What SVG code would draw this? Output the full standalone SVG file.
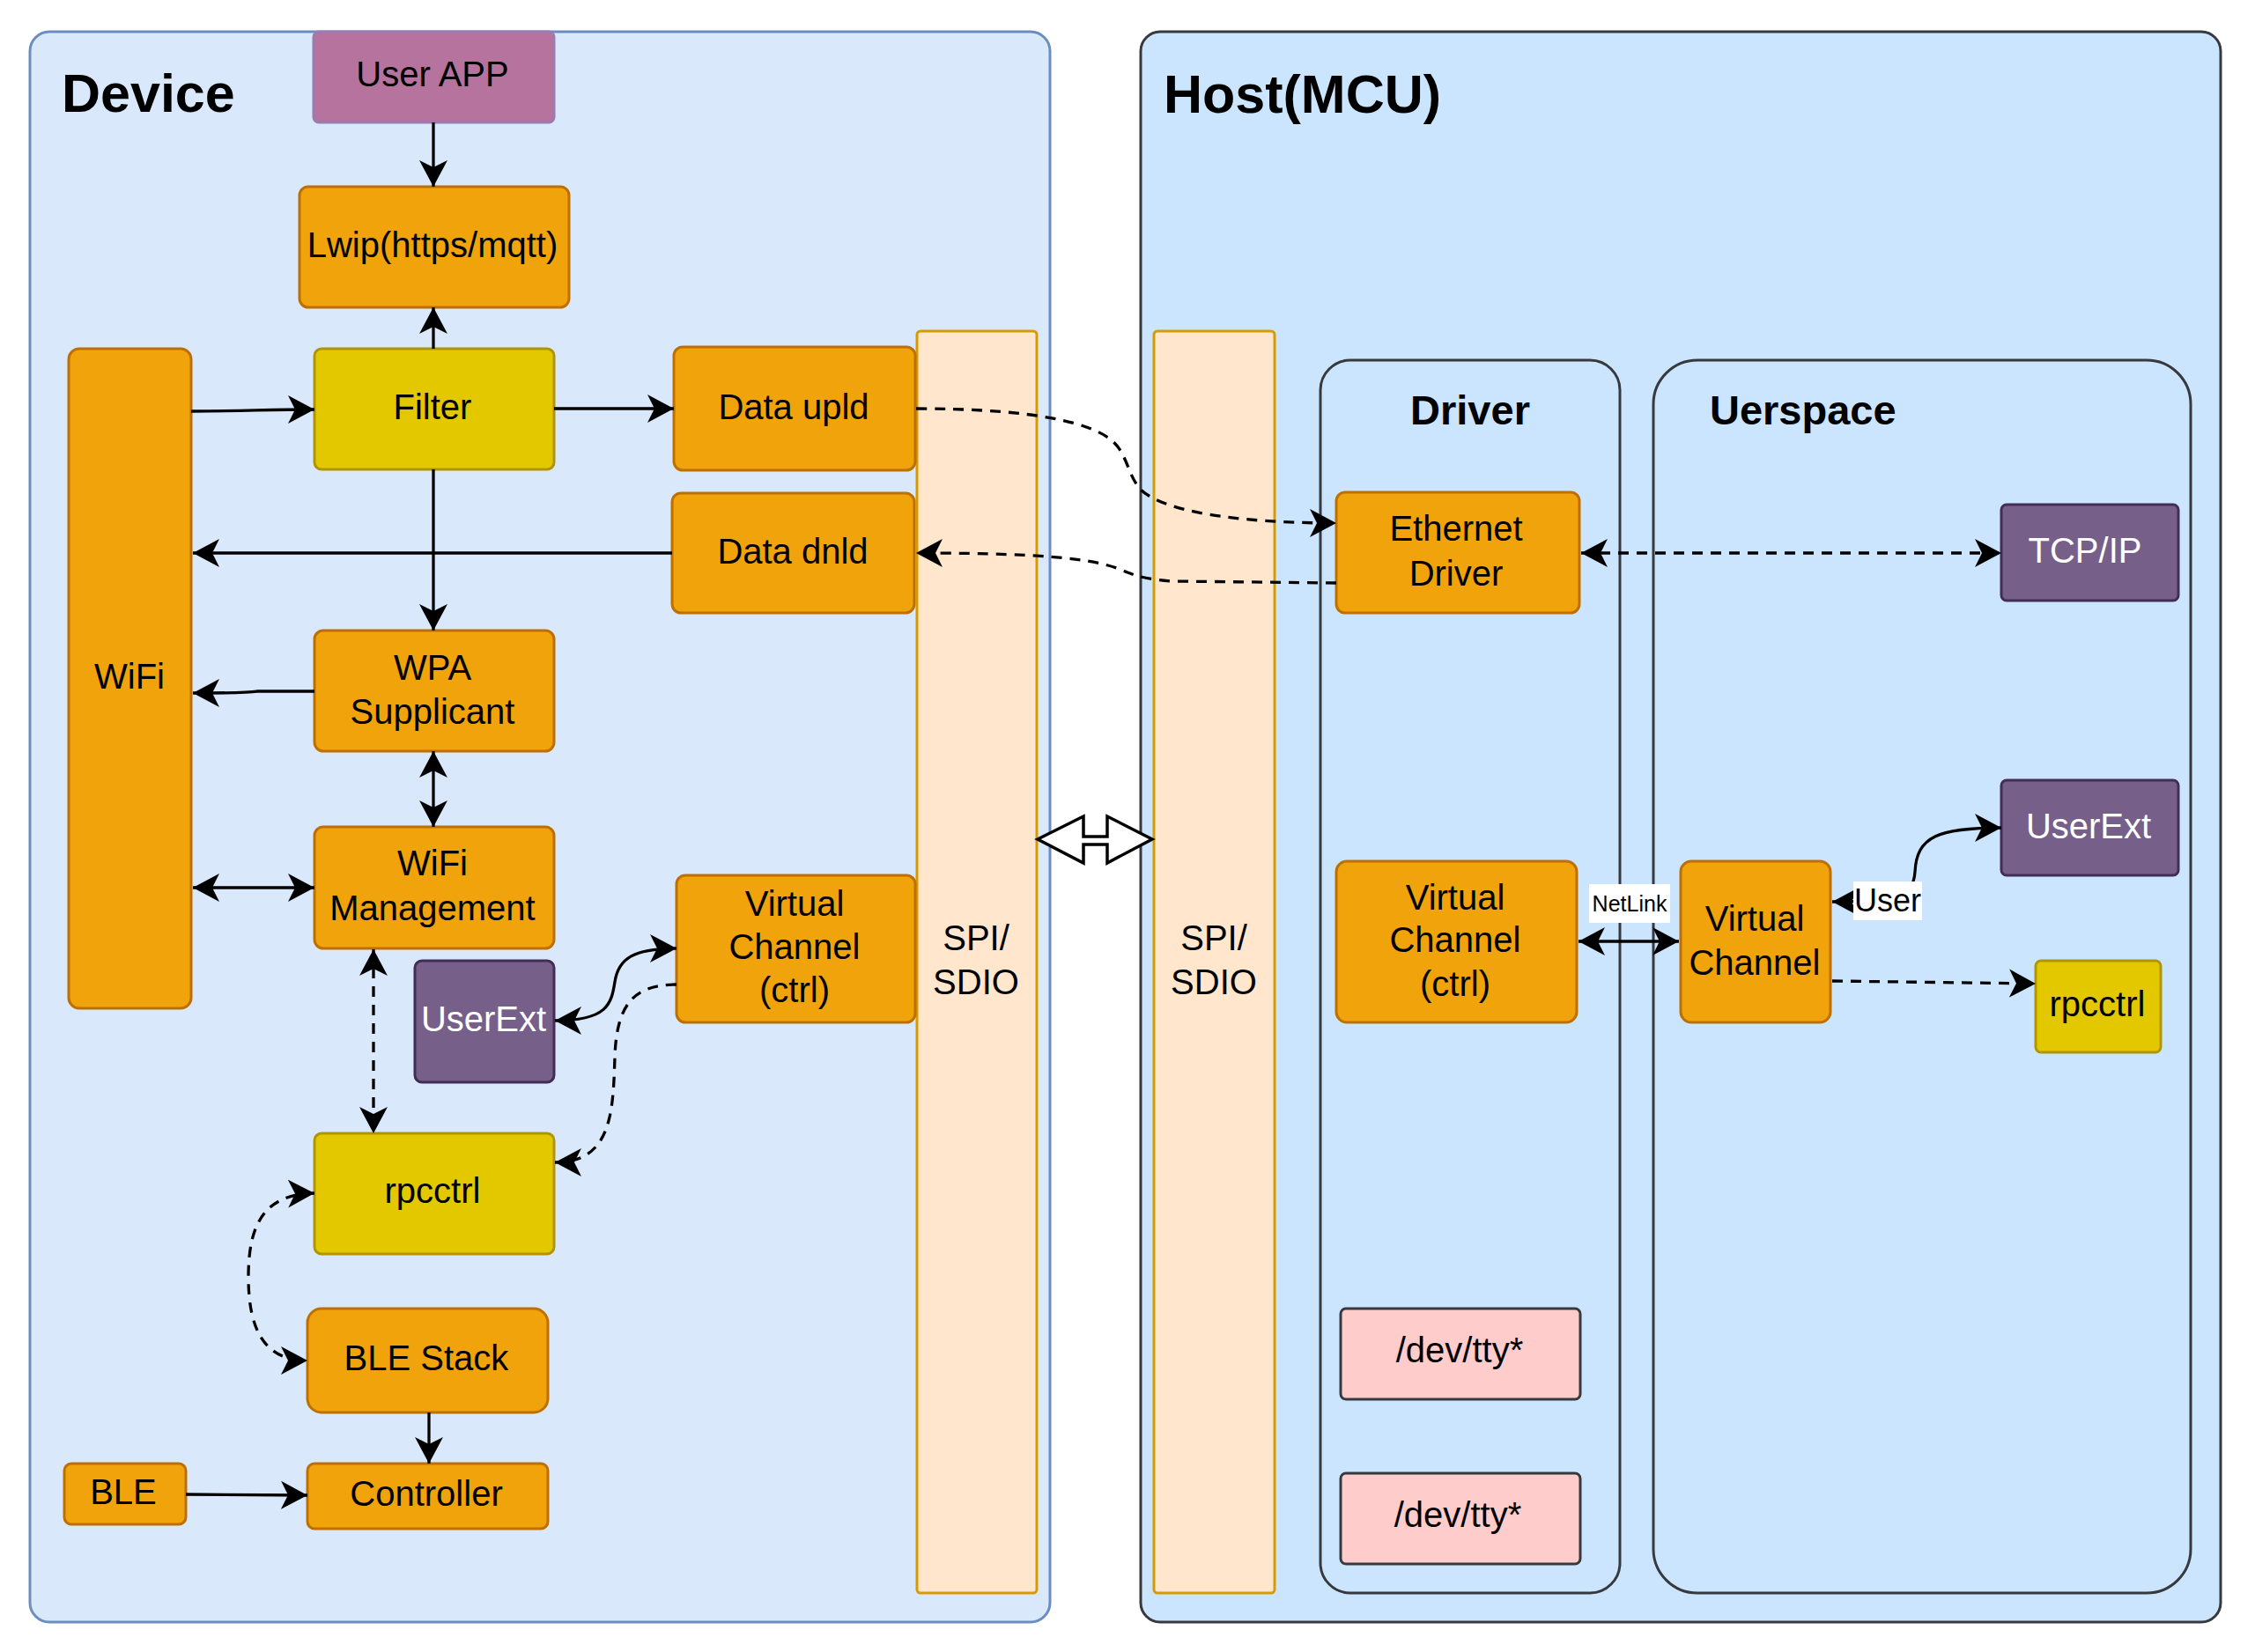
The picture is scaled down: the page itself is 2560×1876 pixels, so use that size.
<svg xmlns="http://www.w3.org/2000/svg" width="2560" height="1876" viewBox="0 0 2560 1876">
<defs>
<style>
text{font-family:"Liberation Sans",Arial,Helvetica,sans-serif;font-size:40px;fill:#000;text-anchor:middle}
.title{font-size:61px;font-weight:bold;text-anchor:start}
.sub{font-size:47px;font-weight:bold}
.w{fill:#fff}
.or{fill:#f0a30a;stroke:#BD7000;stroke-width:3}
.ye{fill:#e3c800;stroke:#B09500;stroke-width:3}
.pu{fill:#76608a;stroke:#432D57;stroke-width:3}
.pk{fill:#ffcccc;stroke:#36393d;stroke-width:3}
.sp{fill:#ffe6cc;stroke:#d79b00;stroke-width:3}
.c{fill:none;stroke:#000;stroke-width:3.3}
.d{stroke-dasharray:12 9}
.e{marker-end:url(#arr)}
.s{marker-start:url(#arr)}
</style>
<marker id="arr" markerUnits="userSpaceOnUse" markerWidth="31" markerHeight="33" viewBox="0 0 31 33" refX="30" refY="16.5" orient="auto-start-reverse"><path d="M0,0.5 L30,16.5 L0,32.5 L8,16.5 Z" fill="#000"/></marker>
</defs>
<rect width="2560" height="1876" fill="#fff"/>
<g id="device">
<rect x="34" y="36" width="1158" height="1806" rx="22" fill="#dae8fc" stroke="#6c8ebf" stroke-width="3"/>
<text class="title" x="70" y="127">Device</text>
</g>
<g id="host">
<rect x="1295" y="36" width="1226" height="1806" rx="22" fill="#cce5ff" stroke="#36393d" stroke-width="3"/>
<text class="title" x="1321" y="128">Host(MCU)</text>
</g>
<g id="driver">
<rect x="1499" y="409" width="340" height="1400" rx="34" fill="#cce5ff" stroke="#36393d" stroke-width="3"/>
<text class="sub" x="1669" y="482">Driver</text>
</g>
<g id="uerspace">
<rect x="1877" y="409" width="610" height="1400" rx="50" fill="#cce5ff" stroke="#36393d" stroke-width="3"/>
<text class="sub" x="1941" y="482" style="text-anchor:start">Uerspace</text>
</g>
<g id="spi-dev"><rect class="sp" x="1041" y="376" width="136" height="1433" rx="4"/><text x="1108" y="1079">SPI/</text><text x="1108" y="1129">SDIO</text></g>
<g id="spi-host"><rect class="sp" x="1310" y="376" width="137" height="1433" rx="4"/><text x="1378" y="1079">SPI/</text><text x="1378" y="1129">SDIO</text></g>
<g id="userapp"><rect x="356" y="36" width="273" height="103" rx="6" fill="#B5739D" stroke="#9b7bb0" stroke-width="3"/><text x="491" y="98">User APP</text></g>
<g id="lwip"><rect class="or" x="340" y="212" width="306" height="137" rx="10"/><text x="491" y="292">Lwip(https/mqtt)</text></g>
<g id="filter"><rect class="ye" x="357" y="396" width="272" height="137" rx="8"/><text x="491" y="476">Filter</text></g>
<g id="dataupld"><rect class="or" x="765" y="394" width="274" height="140" rx="10"/><text x="901" y="476">Data upld</text></g>
<g id="datadnld"><rect class="or" x="763" y="560" width="275" height="136" rx="10"/><text x="900" y="640">Data dnld</text></g>
<g id="wifi"><rect class="or" x="78" y="396" width="139" height="749" rx="12"/><text x="147" y="782">WiFi</text></g>
<g id="wpa"><rect class="or" x="357" y="716" width="272" height="137" rx="10"/><text x="491" y="772">WPA</text><text x="491" y="822">Supplicant</text></g>
<g id="wifimgmt"><rect class="or" x="357" y="939" width="272" height="138" rx="10"/><text x="491" y="994">WiFi</text><text x="491" y="1045">Management</text></g>
<g id="vc-dev"><rect class="or" x="768" y="994" width="271" height="167" rx="10"/><text x="902" y="1040">Virtual</text><text x="902" y="1089">Channel</text><text x="902" y="1138">(ctrl)</text></g>
<g id="userext-dev"><rect class="pu" x="471" y="1091" width="158" height="138" rx="8"/><text class="w" x="549" y="1171">UserExt</text></g>
<g id="rpcctrl-dev"><rect class="ye" x="357" y="1287" width="272" height="137" rx="8"/><text x="491" y="1366">rpcctrl</text></g>
<g id="blestack"><rect class="or" x="349" y="1486" width="273" height="118" rx="16"/><text x="484" y="1556">BLE Stack</text></g>
<g id="controller"><rect class="or" x="349" y="1662" width="273" height="74" rx="8"/><text x="484" y="1710">Controller</text></g>
<g id="ble"><rect class="or" x="73" y="1662" width="138" height="69" rx="8"/><text x="140" y="1708">BLE</text></g>
<g id="ethdrv"><rect class="or" x="1517" y="559" width="276" height="137" rx="10"/><text x="1653" y="614">Ethernet</text><text x="1653" y="665">Driver</text></g>
<g id="tcpip"><rect class="pu" x="2272" y="573" width="201" height="109" rx="6"/><text class="w" x="2367" y="639">TCP/IP</text></g>
<g id="userext-host"><rect class="pu" x="2272" y="886" width="201" height="108" rx="6"/><text class="w" x="2371" y="952">UserExt</text></g>
<g id="vc-drv"><rect class="or" x="1517" y="978" width="273" height="183" rx="12"/><text x="1652" y="1033">Virtual</text><text x="1652" y="1081">Channel</text><text x="1652" y="1131">(ctrl)</text></g>
<g id="vc-user"><rect class="or" x="1908" y="978" width="170" height="183" rx="12"/><text x="1992" y="1057">Virtual</text><text x="1992" y="1107">Channel</text></g>
<g id="rpcctrl-host"><rect class="ye" x="2311" y="1091" width="142" height="104" rx="6"/><text x="2381" y="1154">rpcctrl</text></g>
<g id="tty1"><rect class="pk" x="1522" y="1486" width="272" height="103" rx="6"/><text x="1657" y="1547">/dev/tty*</text></g>
<g id="tty2"><rect class="pk" x="1522" y="1673" width="272" height="103" rx="6"/><text x="1655" y="1734">/dev/tty*</text></g>
<g id="bus">
<polygon points="1178,953 1230,927 1230,950 1257,950 1257,927 1308,953 1257,980 1257,959 1230,959 1230,980" fill="#fff" stroke="#000" stroke-width="3.5" stroke-linejoin="miter"/>
</g>
<g id="connectors">
<path class="c e" d="M492 139 L492 212"/>
<path class="c e" d="M492 396 L492 349"/>
<path class="c e" d="M217 467 C280 467 300 465 357 465"/>
<path class="c e" d="M629 464 L765 464"/>
<path class="c e" d="M763 628 L219 628"/>
<path class="c e" d="M492 533 L492 716"/>
<path class="c e" d="M357 785 L292 785 C286 786 282 787 219 787"/>
<path class="c s e" d="M492 853 L492 939"/>
<path class="c s e" d="M219 1008 L357 1008"/>
<path class="c d s e" d="M424 1078 L424 1287"/>
<path class="c s e" d="M630 1159 C690 1159 694 1140 698 1115 C702 1088 720 1077 768 1077"/>
<path class="c d e" d="M768 1118 C720 1118 700 1140 698 1200 C696 1262 695 1320 630 1320"/>
<path class="c d s e" d="M357 1355 C300 1356 282 1390 282 1450 C282 1510 300 1545 349 1545"/>
<path class="c e" d="M487 1604 L487 1662"/>
<path class="c e" d="M211 1697 L349 1698"/>
<path class="c d e" d="M1040 464 C1150 464 1232 475 1262 500 C1280 515 1280 540 1295 556 C1320 580 1400 594 1517 594"/>
<path class="c d e" d="M1517 662 L1330 660 C1305 658 1292 655 1280 650 C1250 636 1200 628 1040 628"/>
<path class="c d s e" d="M1795 628 L2272 628"/>
<path class="c s e" d="M1792 1069 L1906 1069"/>
<path class="c s e" d="M2080 1024 C2150 1024 2172 1020 2174 990 C2176 950 2200 940 2272 940"/>
<path class="c d e" d="M2080 1114 L2311 1117"/>
</g>
<g id="labels">
<rect x="1804" y="1004" width="92" height="44" fill="#fff"/>
<text x="1850" y="1035" style="font-size:25px">NetLink</text>
<rect x="2104" y="1001" width="78" height="44" fill="#fff"/>
<text x="2143" y="1035" style="font-size:36px">User</text>
</g>
</svg>
